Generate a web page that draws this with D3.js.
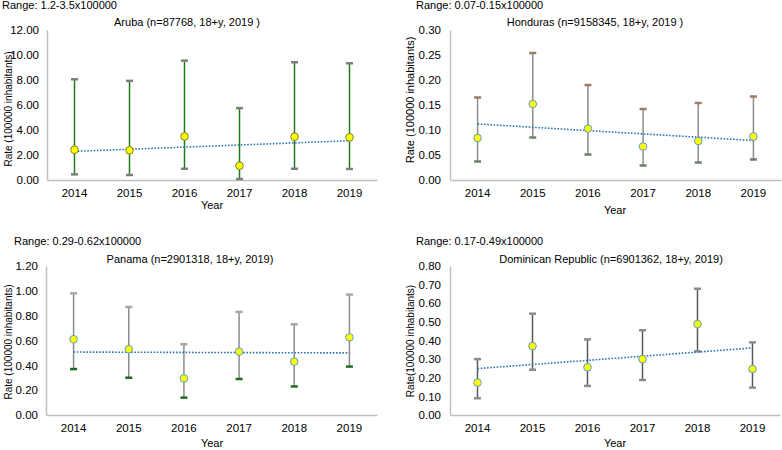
<!DOCTYPE html>
<html><head><meta charset="utf-8">
<script src="https://cdn.jsdelivr.net/npm/d3@7"></script>
<style>body{margin:0;background:#fff}svg{display:block;font-family:"Liberation Sans",Arial,sans-serif}</style>
</head><body><svg id="c" width="782" height="450"></svg>
<script>
const years = ["2014","2015","2016","2017","2018","2019"];

const arubaRate  = [2.42, 2.37, 3.49, 1.14, 3.46, 3.41];
const arubaUpper = [8.06, 7.93, 9.55, 5.75, 9.42, 9.34];
const arubaLower = [0.45, 0.40, 0.90, 0.08, 0.90, 0.88];
const arubaTrend = [2.29, 3.14];

const hondRate  = [0.084, 0.152, 0.103, 0.067, 0.078, 0.087];
const hondUpper = [0.165, 0.254, 0.190, 0.142, 0.154, 0.167];
const hondLower = [0.037, 0.085, 0.051, 0.029, 0.035, 0.041];
const hondTrend = [0.112, 0.079];

const panRate  = [0.61, 0.53, 0.295, 0.51, 0.43, 0.625];
const panUpper = [0.98, 0.87, 0.57, 0.83, 0.73, 0.97];
const panLower = [0.37, 0.30, 0.14, 0.29, 0.23, 0.39];
const panTrend = [0.507, 0.50];

const domRate  = [0.174, 0.37, 0.256, 0.30, 0.488, 0.247];
const domUpper = [0.30, 0.544, 0.406, 0.455, 0.678, 0.39];
const domLower = [0.09, 0.243, 0.156, 0.188, 0.342, 0.147];
const domTrend = [0.249, 0.36];

const arubaTicks = [0,2,4,6,8,10,12];
const hondTicks = [0,0.05,0.10,0.15,0.20,0.25,0.30];
const panTicks = [0,0.2,0.4,0.6,0.8,1.0,1.2];
const domTicks = [0,0.1,0.2,0.3,0.4,0.5,0.6,0.7,0.8];

const svg = d3.select("#c");

function panel(o){
  const g = svg.append("g");
  const x = d3.scaleBand().domain(years).range([o.x0, o.x1]);
  const y = d3.scaleLinear().domain([0, o.ticks[o.ticks.length-1]]).range([o.y1, o.y0]);
  const cx = d => x(d) + x.bandwidth()/2;
  const ya = g.append("g").attr("transform",`translate(${o.x0},0)`)
    .call(d3.axisLeft(y).tickValues(o.ticks).tickFormat(d3.format(o.fmt)).tickSize(0).tickPadding(o.tickPad));
  const xa = g.append("g").attr("transform",`translate(0,${o.y1})`)
    .call(d3.axisBottom(x).tickSize(0).tickPadding(9));
  [ya, xa].forEach(a => {
    a.select(".domain").attr("stroke","#bfbfbf").attr("stroke-width",1.5);
    a.selectAll("text").attr("font-size","11.5px").attr("fill","#000").attr("font-family","Liberation Sans, Arial, sans-serif");
  });
  years.forEach((yr,i)=>{
    g.append("line").attr("x1",cx(yr)).attr("x2",cx(yr)).attr("y1",y(o.lower[i])).attr("y2",y(o.upper[i]))
      .attr("stroke",o.barColor).attr("stroke-width",1.5);
    g.append("line").attr("x1",cx(yr)-3.5).attr("x2",cx(yr)+3.5).attr("y1",y(o.upper[i])).attr("y2",y(o.upper[i]))
      .attr("stroke",o.capUp).attr("stroke-width",2.5);
    g.append("line").attr("x1",cx(yr)-3.5).attr("x2",cx(yr)+3.5).attr("y1",y(o.lower[i])).attr("y2",y(o.lower[i]))
      .attr("stroke",o.capLow).attr("stroke-width",2.5);
  });
  g.append("line").attr("x1",cx(years[0])).attr("x2",cx(years[5]))
    .attr("y1",y(o.trend[0])).attr("y2",y(o.trend[1]))
    .attr("stroke","#2e75b6").attr("stroke-width",1.6).attr("stroke-dasharray","1.6,1.6");
  g.selectAll("circle.pt").data(o.rate).join("circle")
    .attr("cx",(d,i)=>cx(years[i])).attr("cy",d=>y(d)).attr("r",3.8)
    .attr("fill","#ffff00").attr("stroke",o.ptStroke).attr("stroke-width",1);
  g.append("text").attr("x",o.rangeX).attr("y",o.rangeY).attr("font-size","11px").text(o.range);
  g.append("text").attr("x",o.titleX).attr("y",o.titleY).attr("text-anchor","middle").attr("font-size","11px").text(o.title);
  g.append("text").attr("x",o.yearX).attr("y",o.yearY).attr("text-anchor","middle").attr("font-size","11px").text("Year");
  g.append("text").attr("transform",`translate(${o.ylabX},${o.ylabY}) rotate(-90)`).attr("text-anchor","middle")
    .attr("font-size",o.ylabSize).text(o.ylab);
}

panel({x0:47,x1:377,y0:30,y1:180,ticks:arubaTicks,fmt:".2f",tickPad:8,
  rate:arubaRate,upper:arubaUpper,lower:arubaLower,trend:arubaTrend,
  barColor:"#1e7b1e",capUp:"#7f7f7f",capLow:"#7f7f7f",ptStroke:"#7f7f20",
  range:"Range: 1.2-3.5x100000",rangeX:2,rangeY:9,
  title:"Aruba (n=87768, 18+y, 2019 )",titleX:187,titleY:26,
  yearX:212,yearY:209,ylab:"Rate (100000 inhabitants)",ylabX:12,ylabY:109,ylabSize:"10px"});

panel({x0:450,x1:781,y0:30,y1:180,ticks:hondTicks,fmt:".2f",tickPad:9,
  rate:hondRate,upper:hondUpper,lower:hondLower,trend:hondTrend,
  barColor:"#8c8c8c",capUp:"#a07868",capLow:"#6b7f6b",ptStroke:"#5b9bd5",
  range:"Range: 0.07-0.15x100000",rangeX:416,rangeY:9,
  title:"Honduras (n=9158345, 18+y, 2019 )",titleX:595,titleY:26,
  yearX:615,yearY:214,ylab:"Rate (100000 inhabitants)",ylabX:414,ylabY:100,ylabSize:"11px"});

panel({x0:46,x1:377,y0:266,y1:415,ticks:panTicks,fmt:".2f",tickPad:8,
  rate:panRate,upper:panUpper,lower:panLower,trend:panTrend,
  barColor:"#8c8c8c",capUp:"#a6a6a6",capLow:"#1e6b1e",ptStroke:"#5b9bd5",
  range:"Range: 0.29-0.62x100000",rangeX:14,rangeY:245,
  title:"Panama (n=2901318, 18+y, 2019)",titleX:190,titleY:263,
  yearX:212,yearY:447,ylab:"Rate (100000 inhabitants)",ylabX:12,ylabY:342,ylabSize:"10px"});

panel({x0:450,x1:780,y0:266,y1:415,ticks:domTicks,fmt:".2f",tickPad:9,
  rate:domRate,upper:domUpper,lower:domLower,trend:domTrend,
  barColor:"#595959",capUp:"#8c8c8c",capLow:"#8c8c8c",ptStroke:"#5b9bd5",
  range:"Range: 0.17-0.49x100000",rangeX:416,rangeY:245,
  title:"Dominican Republic (n=6901362, 18+y, 2019)",titleX:611,titleY:263,
  yearX:615,yearY:447,ylab:"Rate(100000 inhabitants)",ylabX:414,ylabY:341,ylabSize:"10px"});
</script></body></html>
